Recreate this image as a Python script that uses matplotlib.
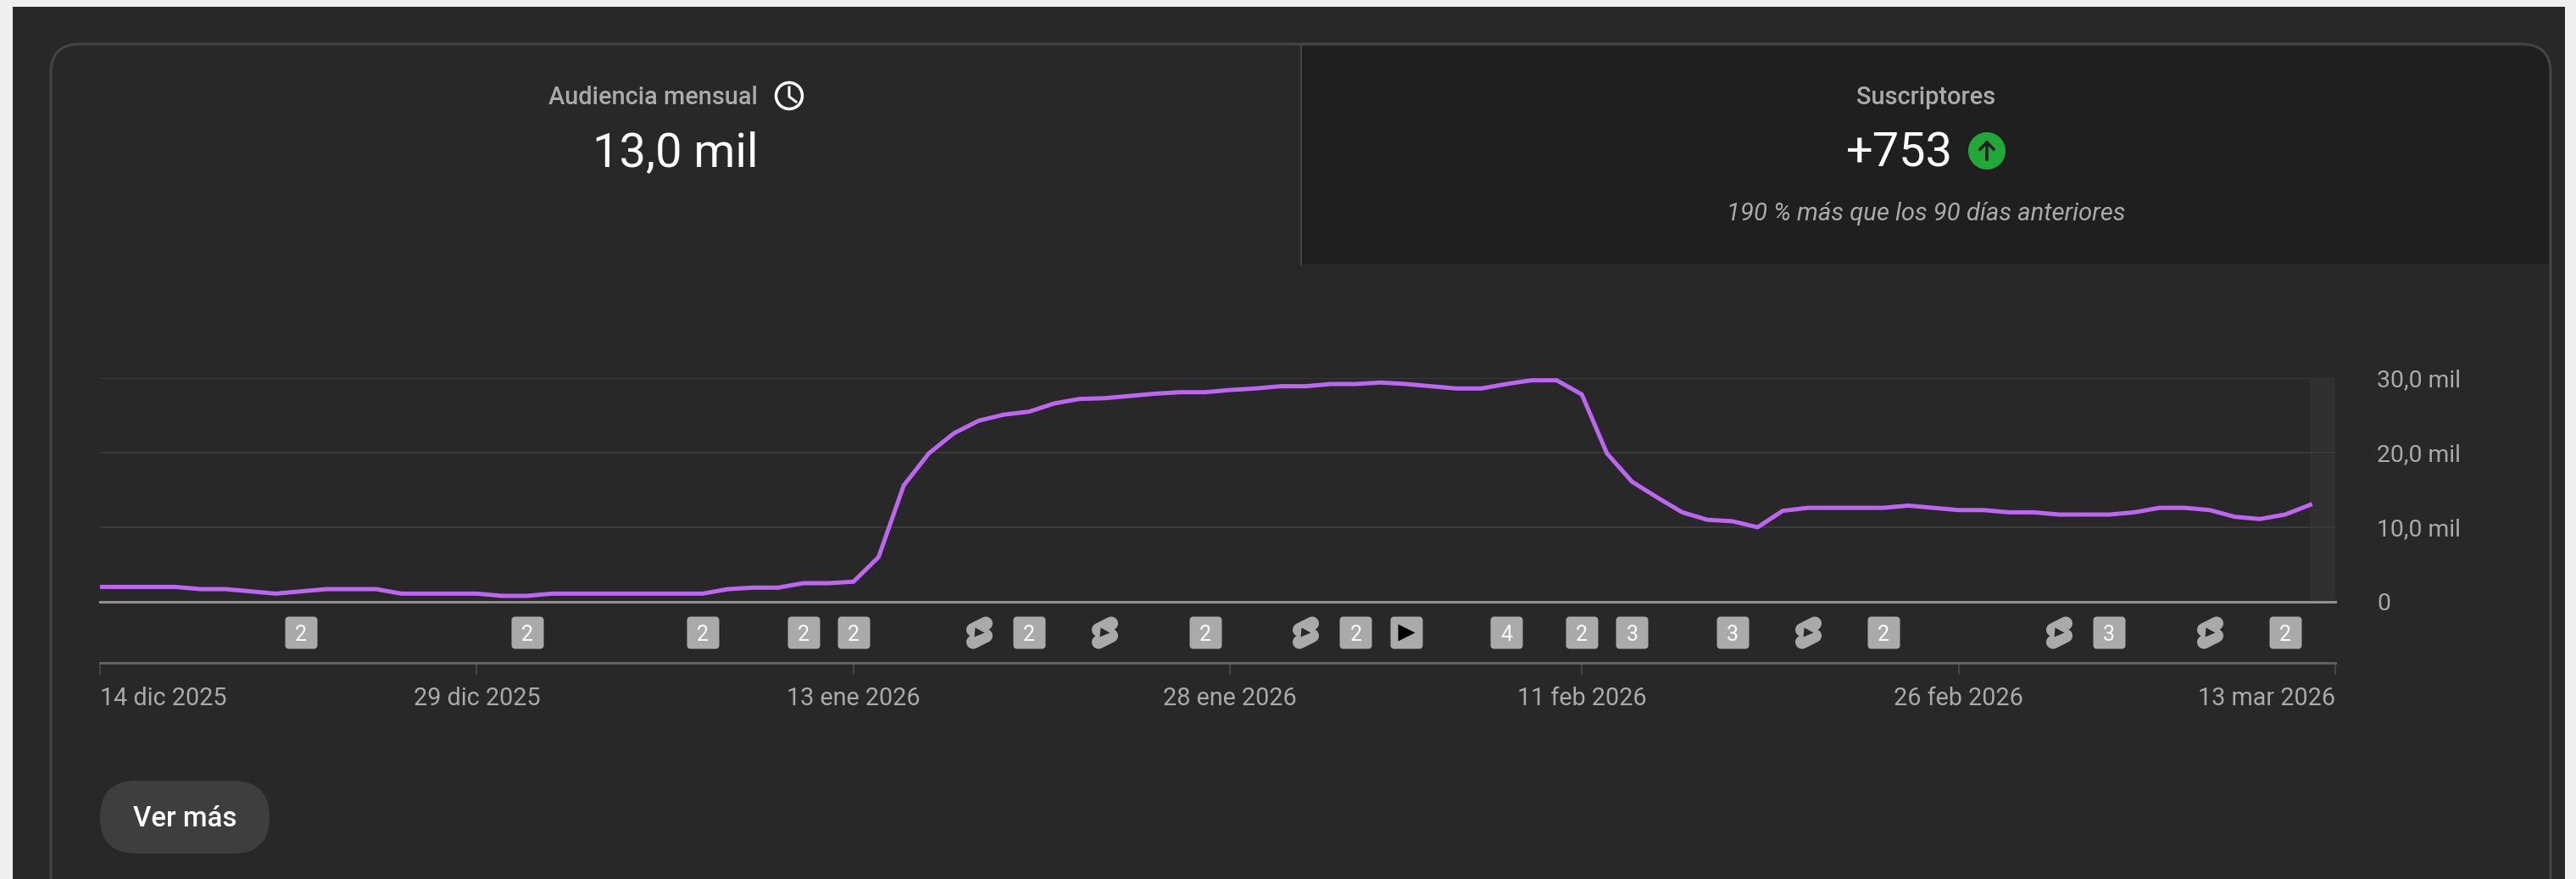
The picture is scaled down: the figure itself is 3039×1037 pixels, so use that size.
import matplotlib
matplotlib.use('Agg')
import matplotlib.pyplot as plt
from matplotlib.patches import FancyBboxPatch, Rectangle, Circle
from matplotlib.path import Path
import numpy as np

W, H = 3039, 1037

# audiencia mensual, miles, un valor por dia desde 14 dic 2025
audience = [2.0, 2.0, 2.0, 2.0, 1.7, 1.7, 1.4, 1.1, 1.4, 1.7,
            1.7, 1.7, 1.1, 1.1, 1.1, 1.1, 0.8, 0.8, 1.1, 1.1,
            1.1, 1.1, 1.1, 1.1, 1.1, 1.7, 1.9, 1.9, 2.5, 2.5,
            2.7, 6.0, 15.6, 19.9, 22.6, 24.3, 25.1, 25.5, 26.6, 27.2,
            27.3, 27.6, 27.9, 28.1, 28.1, 28.4, 28.6, 28.9, 28.9, 29.2,
            29.2, 29.4, 29.2, 28.9, 28.6, 28.6, 29.2, 29.7, 29.7, 27.8,
            19.9, 16.1, 14.0, 12.0, 11.0, 10.8, 10.0, 12.2, 12.6, 12.6,
            12.6, 12.6, 12.9, 12.6, 12.3, 12.3, 12.0, 12.0, 11.7, 11.7,
            11.7, 12.0, 12.6, 12.6, 12.3, 11.4, 11.1, 11.7, 13.0]
days = list(range(len(audience)))

y_ticks = [0, 10, 20, 30]
y_labels = ['0', '10,0 mil', '20,0 mil', '30,0 mil']
x_ticks = [0, 15, 30, 45, 59, 74, 89]
x_labels = ['14 dic 2025', '29 dic 2025', '13 ene 2026', '28 ene 2026',
            '11 feb 2026', '26 feb 2026', '13 mar 2026']

# marcas de la franja bajo el grafico
count_days = [8, 17, 24, 28, 30, 37, 44, 50, 56, 59, 61, 65, 71, 80, 87]
count_vals = [2, 2, 2, 2, 2, 2, 2, 2, 4, 2, 3, 3, 2, 3, 2]
shorts_days = [35, 40, 48, 68, 78, 84]
video_days = [52]

PAGE = '#efefef'
BG = '#282828'
PANEL = '#1f1f1f'
BORDER = '#454545'
GRID = '#3a3a3a'
MUTED = '#aaaaaa'
PURPLE = '#bd66f2'

plt.rcParams['font.family'] = ['Roboto', 'DejaVu Sans']


def px(n):
    return n * 72 / 100


def axes_rect(x0, y0, x1, y1):
    return [x0 / W, 1 - y1 / H, (x1 - x0) / W, (y1 - y0) / H]


def capsule(p0, p1, r, n=12):
    a = np.arctan2(p1[1] - p0[1], p1[0] - p0[0])
    t0 = np.linspace(a + np.pi / 2, a + 3 * np.pi / 2, n)
    t1 = np.linspace(a - np.pi / 2, a + np.pi / 2, n)
    pts = [(p0[0] + r * np.cos(t), p0[1] + r * np.sin(t)) for t in t0]
    pts += [(p1[0] + r * np.cos(t), p1[1] + r * np.sin(t)) for t in t1]
    pts.append(pts[0])
    return pts


def rounded_square(half, r, n=6):
    pts = []
    for cx, cy, start in [(half - r, half - r, 0), (-half + r, half - r, 90),
                          (-half + r, -half + r, 180), (half - r, -half + r, 270)]:
        for t in np.radians(np.linspace(start, start + 90, n)):
            pts.append((cx + r * np.cos(t), cy + r * np.sin(t)))
    pts.append(pts[0])
    return Path(pts, closed=True)


def shorts_marker():
    a = capsule((-7.5, 3.5), (7.5, 11), 8)
    b = capsule((-7.5, -11), (7.5, -3.5), 8)
    verts = a + b
    codes = ([Path.MOVETO] + [Path.LINETO] * (len(a) - 2) + [Path.CLOSEPOLY]
             + [Path.MOVETO] + [Path.LINETO] * (len(b) - 2) + [Path.CLOSEPOLY])
    return Path(verts, codes)


fig = plt.figure(figsize=(W / 100, H / 100), dpi=100, facecolor=PAGE)

# fondo y tarjeta, en pixeles
bg = fig.add_axes([0, 0, 1, 1])
bg.set_xlim(0, W)
bg.set_ylim(H, 0)
bg.axis('off')
bg.add_patch(Rectangle((15, 8), 3011, H, fc=BG, ec='none'))
card = FancyBboxPatch((60, 52), 2949, 1040, boxstyle='round,pad=0,rounding_size=34',
                      fc='none', ec=BORDER, lw=px(3), zorder=3)
bg.add_patch(card)
panel = Rectangle((1535, 52), 1474, 260, fc=PANEL, ec='none', zorder=2)
bg.add_patch(panel)
panel.set_clip_path(card)
bg.plot([1535, 1535], [52, 312], color=BORDER, lw=px(2), zorder=3)

bg.text(770, 115, 'Audiencia mensual', color=MUTED, fontsize=px(29), fontweight=500,
        ha='center', va='center', zorder=4)
bg.text(797, 181, '13,0 mil', color='white', fontsize=px(56), ha='center', va='center', zorder=4)
bg.add_patch(Circle((931, 113), 15.5, fc='none', ec='white', lw=px(3.5), zorder=4))
bg.plot([931, 931, 939], [103, 114, 120], color='white', lw=px(3), zorder=4)

bg.text(2272, 115, 'Suscriptores', color=MUTED, fontsize=px(29), fontweight=500,
        ha='center', va='center', zorder=4)
bg.text(2241, 181, '+753', color='white', fontsize=px(56), ha='center', va='center', zorder=4)
bg.add_patch(Circle((2344, 178), 22, fc='#22a838', ec='none', zorder=4))
bg.plot([2344, 2344], [188, 168], color=PANEL, lw=px(3.5), zorder=5)
bg.plot([2336, 2344, 2352], [176, 168, 176], color=PANEL, lw=px(3.5), zorder=5)
bg.text(2272, 252, '190 % más que los 90 días anteriores', color=MUTED, fontsize=px(29.3),
        style='italic', ha='center', va='center', zorder=4)

# boton
bg.add_patch(FancyBboxPatch((118, 921), 200, 86, boxstyle='round,pad=0,rounding_size=43',
                            fc='#3e3e3e', ec='none'))
bg.text(218, 966, 'Ver más', color='white', fontsize=px(33), fontweight=500,
        ha='center', va='center')

# grafico
ax = fig.add_axes(axes_rect(118, 446, 2755, 710))
ax.patch.set_alpha(0)
ax.set_xlim(0, 89)
ax.set_ylim(0, 30)
for s in ax.spines.values():
    s.set_visible(False)
ax.axvspan(88, 89, color='#303030', lw=0, zorder=0)
ax.grid(axis='y', color=GRID, lw=px(2), zorder=1)
ax.plot(days, audience, color=PURPLE, lw=px(5), solid_joinstyle='round', zorder=3)
ax.axhline(0, color='#8f8f8f', lw=px(3), zorder=2, clip_on=False)
ax.set_xticks([])
ax.yaxis.tick_right()
ax.set_yticks(y_ticks, y_labels)
ax.tick_params(axis='y', length=0, pad=px(49), labelsize=px(28.4), labelcolor=MUTED)
for t in ax.get_yticklabels():
    t.set_clip_on(False)
ax.get_ygridlines()[0].set_visible(False)

# franja de marcas y eje de fechas
strip = fig.add_axes(axes_rect(118, 710, 2755, 782))
strip.patch.set_alpha(0)
strip.set_xlim(0, 89)
strip.set_ylim(0, 1)
for name in ['top', 'left', 'right']:
    strip.spines[name].set_visible(False)
strip.spines['bottom'].set_color('#606060')
strip.spines['bottom'].set_linewidth(px(3))
strip.set_yticks([])
strip.set_xticks(x_ticks, x_labels)
strip.tick_params(axis='x', length=px(14), width=px(1.5), color='#505050', pad=px(14),
                  labelsize=px(28.7), labelcolor=MUTED)
labels = strip.get_xticklabels()
labels[0].set_ha('left')
labels[-1].set_ha('right')

square = rounded_square(19, 4)
all_boxes = count_days + video_days
strip.plot(all_boxes, [0.5] * len(all_boxes), ls='none', marker=square, ms=px(38),
           mfc=MUTED, mec='none', clip_on=False)
for d, v in zip(count_days, count_vals):
    strip.text(d, 0.5, str(v), color='white', fontsize=px(25), ha='center', va='center_baseline')
strip.plot(video_days, [0.5], ls='none', marker='>', ms=px(20), mfc='black', mec='none')
strip.plot(shorts_days, [0.5] * len(shorts_days), ls='none', marker=shorts_marker(), ms=px(38),
           mfc=MUTED, mec='none', clip_on=False)
strip.plot(shorts_days, [0.5] * len(shorts_days), ls='none', marker='>', ms=px(11),
           mfc=BG, mec='none')

fig.savefig('out.png', dpi=100, facecolor=PAGE)
